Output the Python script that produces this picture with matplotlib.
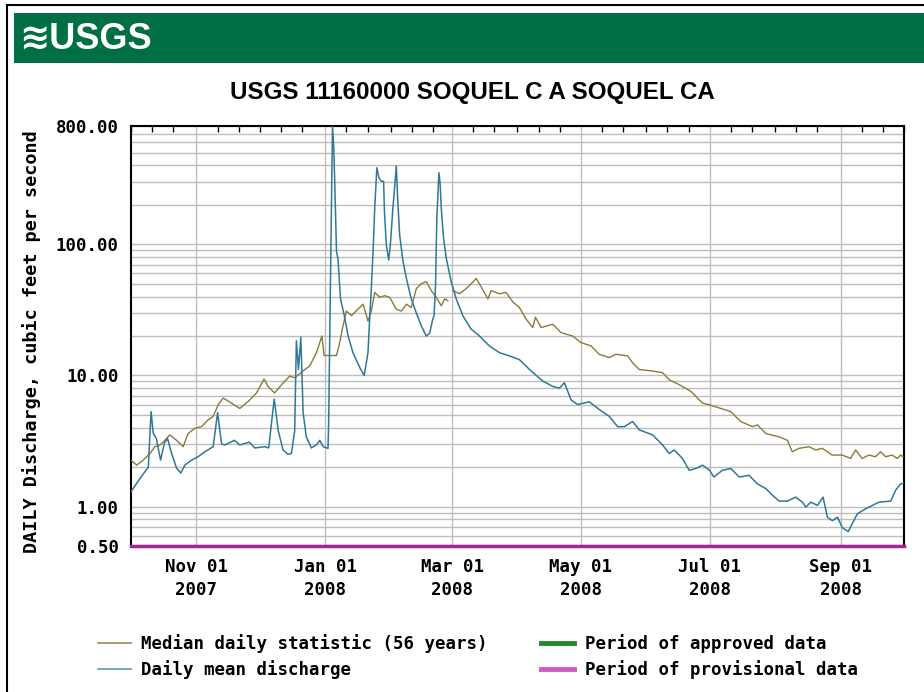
import datetime as dt
import numpy as np
import matplotlib
matplotlib.use("Agg")
import matplotlib.pyplot as plt
import matplotlib.dates as mdates
from matplotlib.lines import Line2D
from matplotlib.patches import Rectangle
from matplotlib.ticker import LogLocator, FixedLocator, NullFormatter

# days after 2007-10-01, values in cubic feet per second
mean_days = [0, 4.3, 8.2, 9.5, 10.5, 12, 14, 15.8, 17.3, 19.2, 21.6, 23.6, 25.5, 28.7, 31.8, 35, 38.9,
             41, 42.9, 44.4, 49, 51.5, 56, 58.6, 63.4, 65.2, 67.8, 69.7, 72, 74.4, 76, 77.5, 78.3, 79.3,
             80.4, 81.5, 83, 85.4, 87.8, 89.4, 91, 93.3, 93.6, 94.6, 95.4, 96, 96.5, 97.3, 98, 99.2,
             101, 102.8, 105.1, 108.3, 110.4, 112.2, 113, 113.8, 114.6, 115.4, 116.4, 117.4, 118.5,
             119.6, 120, 120.9, 122, 122.8, 124, 124.8, 125.6, 126.4, 127.2, 128.8, 130.4, 132.7, 135.1,
             137.4, 139.8, 141.4, 142.9, 143.5, 144.2, 144.8, 145.8, 146.4, 146.9, 148, 149.3, 151.6,
             154, 157.1, 161, 165, 169.7, 174.5, 179.2, 183.9, 188.7, 195, 199.7, 202.8, 205.2, 208.4,
             211.5, 217, 221.7, 226.5, 230.4, 233.6, 237.5, 240.7, 247, 251.7, 254.8, 257.2, 261.1,
             264.3, 267.5, 270.6, 273.8, 276, 280, 284, 288, 292.6, 296.6, 300.6, 303.7, 306.9, 310.8,
             314.7, 317.9, 319.5, 321.8, 325, 327.7, 329.7, 332.1, 334.5, 336.8, 339.6, 341.5, 343.9,
             347.8, 351, 354.1, 359.7, 362, 364.4, 365.5]
mean_cfs = [1.3, 1.64, 2.0, 5.3, 3.65, 3.3, 2.26, 3.05, 3.3, 2.55, 1.96, 1.8, 2.07, 2.26, 2.4, 2.62, 2.86,
            5.2, 3.0, 2.95, 3.2, 2.95, 3.1, 2.8, 2.86, 2.8, 6.6, 3.8, 2.7, 2.5, 2.55, 3.8, 18.4, 11.1,
            19.6, 5.2, 3.4, 2.8, 2.95, 3.2, 2.86, 2.78, 4.6, 78, 800, 547, 286, 88, 78, 38.4,
            28.6, 20, 14.9, 11.5, 10, 14.9, 27, 46, 88, 189, 384, 322, 303,
            303, 178, 99, 76, 99, 189, 270, 396, 200, 118, 74, 55, 38.4, 30,
            24, 20, 21, 27, 28.6, 48.6, 158, 352, 286, 189, 111, 78, 52,
            38.4, 28.6, 22.6, 20, 16.8, 14.9, 14.1, 13.2, 11.1, 9.05, 8.25, 8.0, 8.8, 6.5,
            6.0, 6.3, 5.5, 4.87, 4.07, 4.07, 4.45, 3.84, 3.52, 2.95, 2.54, 2.7, 2.33,
            1.89, 1.95, 2.07, 1.9, 1.68, 1.89, 1.95, 1.68, 1.73, 1.49, 1.37, 1.22, 1.1, 1.1,
            1.18, 1.08, 0.99, 1.08, 1.02, 1.18, 0.83, 0.78, 0.83, 0.69, 0.645, 0.74, 0.88,
            0.96, 1.02, 1.08, 1.1, 1.33, 1.49, 1.5]

median_days = [0, 2.7, 5.8, 9, 11.3, 13.7, 16, 18.4, 21.6, 24.7, 27, 30.3, 33.4, 36.5, 38.9, 41.3, 43.6,
               47.6, 51.5, 55.5, 59.4, 63, 64.9, 68, 71.3, 75.2, 77.5, 82.3, 84.6, 87.8, 90.4, 91.4,
               95.6, 97.3, 98.8, 100.4, 102, 104.4, 105.9, 108.3, 109.9, 112.2, 113.8, 115.4, 117.7,
               120.1, 122.5, 125.6, 128, 130.4, 132.7, 135.1, 137.4, 139.8, 142.2, 144.5, 146.9, 148.5,
               150, 151, 152.4, 155.6, 158.7, 162.6, 163.4, 165, 169, 170.5, 174.5, 177.6, 180.8, 183.9,
               187, 190.2, 191.5, 194.2, 199.7, 203.6, 209.1, 213.1, 217.8, 221.7, 226.5, 229.6, 235.1,
               237.5, 240.7, 247, 251.7, 254.8, 259.6, 265.1, 270.6, 273.8, 278.5, 284, 288.7, 294.2,
               296.6, 300.6, 306.9, 310.8, 313.1, 316.3, 321, 324.2, 327.3, 332, 336.8, 340.7, 343.1,
               346.2, 349.4, 352.5, 354.9, 357.3, 360.4, 362.8, 364.4, 365.5]
median_cfs = [2.26, 2.07, 2.26, 2.54, 2.86, 2.95, 3.2, 3.52, 3.2, 2.86, 3.6, 3.96, 4.07, 4.58, 4.87, 5.98, 6.73,
              6.15, 5.6, 6.34, 7.35, 9.4, 8.25, 7.35, 8.5, 9.9, 9.6, 11.1, 11.8, 14.9, 20, 14.2,
              14.2, 14.2, 17.8, 24, 31, 28.6, 30.3, 33, 35, 26, 31, 43, 39.5,
              40.6, 39.5, 32, 31, 35, 33, 46, 50, 52, 44.4, 39.5, 34, 38.4,
              37.2, np.nan, 44.4, 42, 46, 53, 55, 50, 38.4, 44.4, 42, 43, 36.3, 33,
              27, 23.2, 27.8, 23.2, 24.6, 21.2, 20, 17.8, 16.8, 14.5, 13.7, 14.5, 14.1,
              12.5, 11.1, 10.8, 10.5, 9.3, 8.5, 7.56, 6.15, 5.98, 5.65, 5.3, 4.45, 4.07,
              4.2, 3.6, 3.4, 3.2, 2.62, 2.78, 2.86, 2.7, 2.78, 2.47, 2.47, 2.33, 2.7,
              2.33, 2.47, 2.4, 2.62, 2.4, 2.47, 2.33, 2.47, 2.4]

y_ticks = [0.5, 1, 10, 100, 800]
title = "USGS 11160000 SOQUEL C A SOQUEL CA"
y_label = "DAILY Discharge, cubic feet per second"
legend_labels = ["Median daily statistic (56 years)", "Daily mean discharge",
                 "Period of approved data", "Period of provisional data"]

W, H = 924, 692
mono = "DejaVu Sans Mono"
sans = ["Liberation Sans", "DejaVu Sans"]

fig = plt.figure(figsize=(W / 100, H / 100), dpi=100)
fig.patch.set_facecolor("white")

# page frame and USGS banner
fig.add_artist(Line2D([7 / W, 7 / W], [0, 1 - 5 / H], color="black", lw=1.5))
fig.add_artist(Line2D([7 / W, 1], [1 - 5 / H, 1 - 5 / H], color="black", lw=1.5))
fig.add_artist(Rectangle((14 / W, 1 - 63 / H), 1 - 14 / W, 50 / H, color="#006F44", lw=0))
fig.text(19 / W, 1 - 39 / H, "\u224bUSGS", color="white", fontsize=26, fontweight="bold",
         family=sans, ha="left", va="center")
fig.text(472 / W, 1 - 93 / H, title, fontsize=17.4, fontweight="bold", family=sans,
         ha="center", va="center")

ax = fig.add_axes([131 / W, 1 - 546 / H, 773 / W, 420 / H])
start = mdates.date2num(dt.datetime(2007, 10, 1))
x_mean = start + np.array(mean_days)
x_med = start + np.array(median_days)

ax.plot(x_med, median_cfs, color="#8A7A3A", lw=1.0, zorder=3)
ax.plot(x_mean, mean_cfs, color="#2F7898", lw=1.1, zorder=4)
ax.axhline(0.5, color="#A02890", lw=2.5, zorder=5, clip_on=False)

ax.set_yscale("log")
ax.set_ylim(0.5, 800)
ax.set_xlim(start, mdates.date2num(dt.datetime(2008, 10, 1)))

ax.yaxis.set_major_locator(FixedLocator(y_ticks))
ax.set_yticklabels([f"{v:.2f}" for v in y_ticks])
ax.yaxis.set_minor_locator(LogLocator(base=10, subs=np.arange(2, 10)))
ax.yaxis.set_minor_formatter(NullFormatter())
ax.grid(True, which="both", axis="y", color="#BDBDBD", lw=1.0, zorder=1)

ax.xaxis.set_major_locator(mdates.MonthLocator(bymonth=[11, 1, 3, 5, 7, 9]))
ax.xaxis.set_major_formatter(mdates.DateFormatter("%b %d\n%Y"))
ax.xaxis.set_minor_locator(mdates.DayLocator(bymonthday=[1, 11, 21]))
ax.grid(True, which="major", axis="x", color="#BDBDBD", lw=1.0, zorder=1)
ax.set_axisbelow(True)

ax.tick_params(axis="y", which="both", length=0, pad=9)
ax.tick_params(axis="x", which="major", length=0, pad=9)
ax.tick_params(axis="x", which="minor", top=True, bottom=False, direction="in", length=4,
               width=1, color="black")
for lab in ax.get_xticklabels() + ax.get_yticklabels():
    lab.set_family(mono)
    lab.set_fontweight("bold")
    lab.set_fontsize(12.5)
    lab.set_linespacing(1.3)
for s in ax.spines.values():
    s.set_linewidth(1.5)
    s.set_color("black")

fig.text(32 / W, 1 - 342 / H, y_label, rotation=90, family=mono, fontweight="bold",
         fontsize=13.3, ha="center", va="center")

handles = [Line2D([], [], color="#9A8C55", lw=1.2),
           Line2D([], [], color="#5F9CB8", lw=1.2),
           Line2D([], [], color="#1E8B2A", lw=3.5),
           Line2D([], [], color="#D456C8", lw=3.5)]
fig.legend(handles, legend_labels, ncol=2, loc="upper left",
           bbox_to_anchor=(82 / W, 1 - 618 / H), frameon=False,
           prop={"family": mono, "weight": "bold", "size": 12.5},
           handlelength=1.9, handletextpad=0.6, columnspacing=3.1, labelspacing=0.45)

fig.savefig("out.png", dpi=100)
